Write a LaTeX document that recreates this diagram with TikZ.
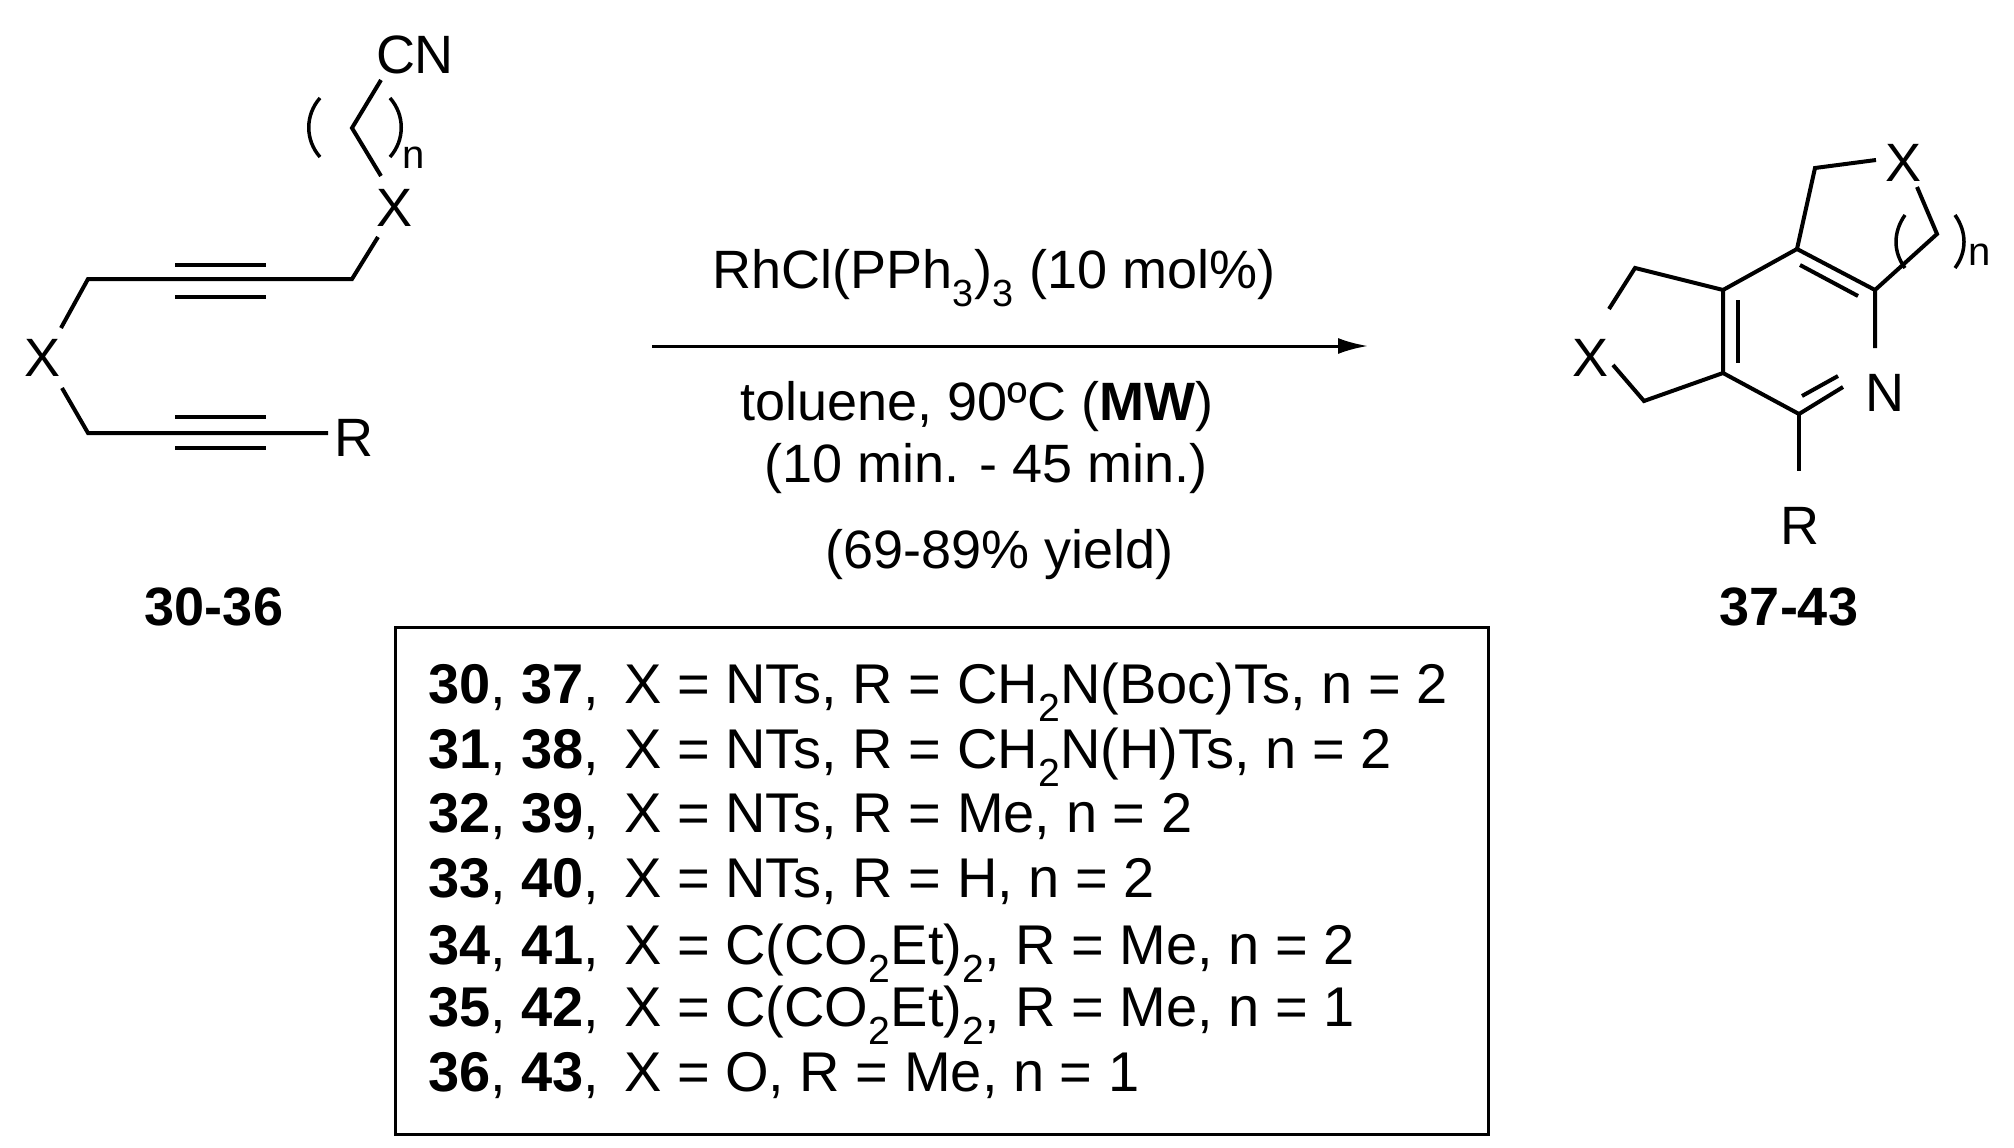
\documentclass[tikz,border=0pt]{standalone}
\usepackage{fontspec}
\setmainfont{Liberation Sans}
\usetikzlibrary{arrows.meta}
\begin{document}
\begin{tikzpicture}[x=1pt,y=-1pt,line width=4pt,
  lbl/.style={inner sep=0pt,font=\fontsize{54}{64}\selectfont},
  row/.style={inner sep=0pt,anchor=base west,font=\fontsize{56}{66}\selectfont},
  bond/.style={line width=4pt,line join=miter}]
\useasboundingbox (0,0) rectangle (2014,1148);
% ---- reactant ----
\node[lbl] (cn) at (415,55) {CN};
\node[lbl] (x1) at (395,208) {X};
\node[lbl] (x2) at (43,358) {X};
\node[lbl] (r1) at (354,438) {R};
\coordinate (a1) at (381,80);
\coordinate (a2) at (352,128);
\coordinate (a3) at (381,176);
\draw[bond] (a1) -- (a2) -- (a3);
\coordinate (b1) at (378,237);
\coordinate (b2) at (352,279);
\coordinate (b3) at (88,279);
\coordinate (b4) at (61,328);
\draw[bond] (b1) -- (b2) -- (b3) -- (b4);
\draw[bond] (175,265) -- (266,265) (175,297) -- (266,297);
\coordinate (c1) at (62,388);
\coordinate (c2) at (88,433);
\coordinate (c3) at (328,433);
\draw[bond] (c1) -- (c2) -- (c3);
\draw[bond] (175,417) -- (266,417) (175,448) -- (266,448);
\draw[line width=3.5pt] (320,98) .. controls (305,115) and (305,140) .. (320,157);
\draw[line width=3.5pt] (390,98) .. controls (405,115) and (405,140) .. (390,157);
\node[lbl,font=\fontsize{40}{48}\selectfont] (n1) at (414,158) {n};
\node[lbl,font=\bfseries\fontsize{54}{64}\selectfont] (l1) at (214,607) {30-36};
% ---- arrow ----
\coordinate (ar1) at (652,346);
\coordinate (ar2) at (1368,346);
\draw[line width=3pt,-{Latex[length=30pt,width=16pt]}] (ar1) -- (ar2);
\node[lbl] (t1) at (994,278) {RhCl(PPh\textsubscript{3})\textsubscript{3} (10 mol\%)};
\node[lbl] (t2) at (977,407) {toluene, 90ºC (\textbf{MW})};
\node[lbl] (t3) at (986,469) {(10 min. - 45 min.)};
\node[lbl] (t4) at (1000,555) {(69-89\% yield)};
% ---- product ----
\coordinate (p1) at (1723,290);
\coordinate (p2) at (1797,249);
\coordinate (p3) at (1875,290);
\coordinate (p4) at (1875,348);
\coordinate (p5) at (1799,414);
\coordinate (p6) at (1723,373);
\node[lbl] (nN) at (1885,393) {N};
\node[lbl] (x3) at (1590,358) {X};
\node[lbl] (x4) at (1903,163) {X};
\node[lbl] (r2) at (1800,526) {R};
\draw[bond] (p6) -- (p1) -- (p2) -- (p3) -- (p4);
\draw[bond] (1843,387) -- (p5) -- (p6);
\draw[bond] (1738,300) -- (1738,363);
\draw[bond] (1800,265) -- (1858,296);
\draw[bond] (1802,396) -- (1838,376);
\draw[bond] (p5) -- (1799,471);
\draw[bond] (p1) -- (1635,268) -- (1609,309);
\draw[bond] (p6) -- (1644,401) -- (1613,365);
\draw[bond] (p2) -- (1815,168) -- (1876,160);
\draw[bond] (1917,187) -- (1937,234) -- (p3);
\draw[line width=3.5pt] (1905,215) .. controls (1893,232) and (1893,252) .. (1905,268);
\draw[line width=3.5pt] (1955,215) .. controls (1967,232) and (1967,252) .. (1955,268);
\node[lbl,font=\fontsize{40}{48}\selectfont] (n2) at (1980,255) {n};
\node[lbl,font=\bfseries\fontsize{54}{64}\selectfont] (l2) at (1789,607) {37-43};
% ---- table ----
\node[draw,line width=2.5pt,minimum width=1093pt,minimum height=507pt,anchor=north west] (box) at (394,626) {};
\node[row] at (426,703) {\textbf{30}, \textbf{37},\, X = NTs, R = CH\textsubscript{2}N(Boc)Ts, n = 2};
\node[row] at (426,768) {\textbf{31}, \textbf{38},\, X = NTs, R = CH\textsubscript{2}N(H)Ts, n = 2};
\node[row] at (426,832) {\textbf{32}, \textbf{39},\, X = NTs, R = Me, n = 2};
\node[row] at (426,897) {\textbf{33}, \textbf{40},\, X = NTs, R = H, n = 2};
\node[row] at (426,964) {\textbf{34}, \textbf{41},\, X = C(CO\textsubscript{2}Et)\textsubscript{2}, R = Me, n = 2};
\node[row] at (426,1026) {\textbf{35}, \textbf{42},\, X = C(CO\textsubscript{2}Et)\textsubscript{2}, R = Me, n = 1};
\node[row] at (426,1091) {\textbf{36}, \textbf{43},\, X = O, R = Me, n = 1};
\end{tikzpicture}
\end{document}
